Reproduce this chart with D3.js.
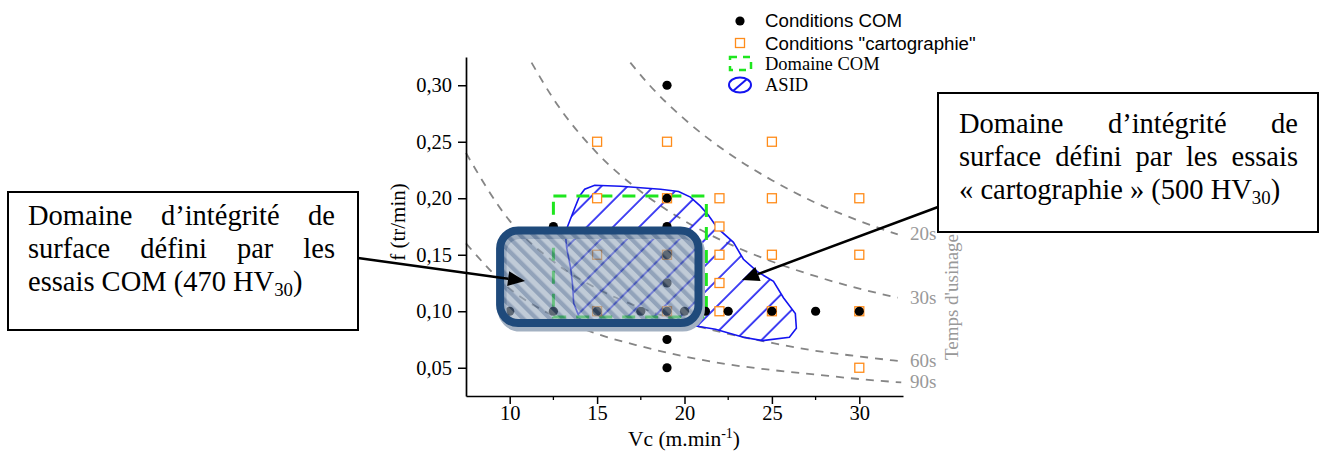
<!DOCTYPE html>
<html><head><meta charset="utf-8">
<script src="https://cdn.jsdelivr.net/npm/d3@7"></script>
<style>body{margin:0;background:#fff}svg{display:block}</style>
</head><body>
<svg id="c" width="1326" height="453"></svg>
<script>
// ---------- data ----------
const vcTicks = [10, 15, 20, 25, 30];
const vcMinorTicks = [12.5, 17.5, 22.5, 27.5];
const fTicks = [0.05, 0.10, 0.15, 0.20, 0.25, 0.30];

const comVc = [19, 19, 19, 12.5, 19, 19, 10, 12.5, 15, 17.5, 19, 20, 21.2, 22.5, 25, 27.5, 30, 19, 19];
const comF  = [0.30, 0.20, 0.175, 0.175, 0.15, 0.125, 0.10, 0.10, 0.10, 0.10, 0.10, 0.10, 0.10, 0.10, 0.10, 0.10, 0.10, 0.075, 0.05];

const cartoVc = [15, 19, 25, 15, 19, 22, 25, 30, 22, 15, 19, 22, 25, 30, 22, 15, 19, 22, 25, 30, 30];
const cartoF  = [0.25, 0.25, 0.25, 0.20, 0.20, 0.20, 0.20, 0.20, 0.175, 0.15, 0.15, 0.15, 0.15, 0.15, 0.125, 0.10, 0.10, 0.10, 0.10, 0.10, 0.05];

const domainComVc = [12.5, 21.25];
const domainComF  = [0.095, 0.202];

const asidVc = [13.31, 13.71, 14.0, 14.29, 14.86, 16.34, 18.63, 19.66, 20.34, 20.91, 21.37, 21.89, 22.8, 23.37, 24.17, 25.09, 25.66, 26.34, 26.4, 26.0, 24.46, 23.37, 21.77, 20.74, 18.06, 15.2, 14.4, 14.0, 13.66, 13.6, 13.49, 13.26, 13.2];
const asidF  = [0.175, 0.191, 0.202, 0.208, 0.2115, 0.2106, 0.208, 0.206, 0.201, 0.193, 0.185, 0.1735, 0.161, 0.146, 0.135, 0.1265, 0.112, 0.098, 0.085, 0.077, 0.074, 0.077, 0.084, 0.0867, 0.0867, 0.0867, 0.0876, 0.094, 0.107, 0.123, 0.138, 0.156, 0.166];

const comZoneVc = [9.45, 20.8];
const comZoneF  = [0.0895, 0.1715];

const isoLabels = ["20s", "30s", "60s", "90s"];
const iso20Vc = [16.9, 18, 20, 22.5, 25, 27.5, 30, 32.2];
const iso20F  = [0.32, 0.30, 0.27, 0.24, 0.216, 0.196, 0.18, 0.168];
const iso30Vc = [11.25, 12.5, 15, 17.5, 20, 22.5, 25, 27.5, 30, 32.2];
const iso30F  = [0.32, 0.288, 0.24, 0.206, 0.18, 0.16, 0.144, 0.131, 0.12, 0.112];
const iso60Vc = [7.5, 10, 12.5, 15, 17.5, 20, 22.5, 25, 27.5, 30, 32.2];
const iso60F  = [0.24, 0.18, 0.144, 0.12, 0.103, 0.09, 0.08, 0.072, 0.065, 0.06, 0.056];
const iso90Vc = [7.5, 10, 12.5, 15, 17.5, 20, 22.5, 25, 27.5, 30, 32.4];
const iso90F  = [0.16, 0.12, 0.096, 0.08, 0.069, 0.06, 0.053, 0.048, 0.044, 0.04, 0.037];

const legendLabels = ["Conditions COM", "Conditions \"cartographie\"", "Domaine COM", "ASID"];
const leftBoxLines = ["Domaine d\u2019intégrité de", "surface défini par les"];
const rightBoxLines = ["Domaine d\u2019intégrité de", "surface défini par les essais"];

// ---------- setup ----------
const SERIF = "'Liberation Serif','Times New Roman',serif";
const SANS = "'Liberation Sans',Arial,sans-serif";
const svg = d3.select("#c");
const x = d3.scaleLinear().domain([7.5, 32.5]).range([466, 903]);
const y = d3.scaleLinear().domain([0.025, 0.325]).range([396, 57]);

const defs = svg.append("defs");
const hp = defs.append("pattern").attr("id", "hatch").attr("patternUnits", "userSpaceOnUse")
  .attr("width", 18.5).attr("height", 18.5).attr("patternTransform", "rotate(45)");
hp.append("line").attr("x1", 2).attr("y1", -2).attr("x2", 2).attr("y2", 21)
  .attr("stroke", "#1414f0").attr("stroke-width", 1.6);
const sp = defs.append("pattern").attr("id", "stripes").attr("patternUnits", "userSpaceOnUse")
  .attr("width", 9.5).attr("height", 20).attr("patternTransform", "rotate(-45)");
sp.append("rect").attr("width", 9.5).attr("height", 20).attr("fill", "#9aabbf");
sp.append("rect").attr("width", 4.2).attr("height", 20).attr("fill", "#4f6a8f");

// ---------- iso-time curves ----------
const isoSeries = [[iso20Vc, iso20F], [iso30Vc, iso30F], [iso60Vc, iso60F], [iso90Vc, iso90F]];
const line = d3.line().x(d => x(d[0])).y(d => y(d[1])).curve(d3.curveMonotoneX);
isoSeries.forEach((s, i) => {
  const pts = s[0].map((v, j) => [v, s[1][j]]);
  svg.append("path").attr("d", line(pts)).attr("fill", "none")
    .attr("stroke", "#858585").attr("stroke-width", 1.8).attr("stroke-dasharray", "8,7");
  const last = pts[pts.length - 1];
  svg.append("text").attr("x", 910).attr("y", y(last[1]) + 6)
    .attr("font-family", SERIF).attr("font-size", 19).attr("fill", "#999")
    .text(isoLabels[i]);
});
svg.append("text").attr("transform", "translate(958,297) rotate(-90)")
  .attr("text-anchor", "middle").attr("font-family", SERIF).attr("font-size", 19)
  .attr("fill", "#999").text("Temps d'usinage");

// ---------- ASID ----------
const asidPts = asidVc.map((v, i) => [x(v), y(asidF[i])]);
const closed = d3.line().curve(d3.curveLinearClosed);
svg.append("path").attr("d", closed(asidPts)).attr("fill", "url(#hatch)")
  .attr("stroke", "#1414f0").attr("stroke-width", 1.6);

// ---------- Domaine COM ----------
svg.append("rect")
  .attr("x", x(domainComVc[0])).attr("y", y(domainComF[1]))
  .attr("width", x(domainComVc[1]) - x(domainComVc[0]))
  .attr("height", y(domainComF[0]) - y(domainComF[1]))
  .attr("fill", "none").attr("stroke", "#1ee61e").attr("stroke-width", 3)
  .attr("stroke-dasharray", "13,10");

// ---------- points ----------
svg.selectAll("rect.carto").data(cartoVc).enter().append("rect").attr("class", "carto")
  .attr("x", (d) => x(d) - 4.5).attr("y", (d, i) => y(cartoF[i]) - 4.5)
  .attr("width", 9).attr("height", 9).attr("fill", "#fff")
  .attr("stroke", "#ff8c1a").attr("stroke-width", 1.3);
svg.selectAll("circle.com").data(comVc).enter().append("circle").attr("class", "com")
  .attr("cx", d => x(d)).attr("cy", (d, i) => y(comF[i])).attr("r", 4.6).attr("fill", "#000");

// ---------- shaded COM zone ----------
const zx0 = x(comZoneVc[0]), zx1 = x(comZoneVc[1]), zy0 = y(comZoneF[1]), zy1 = y(comZoneF[0]);
svg.append("rect").attr("x", zx0 + 2).attr("y", zy0 + 4).attr("width", zx1 - zx0).attr("height", zy1 - zy0)
  .attr("rx", 18).attr("fill", "none").attr("stroke", "#a3b1c2").attr("stroke-width", 9);
svg.append("rect").attr("x", zx0).attr("y", zy0).attr("width", zx1 - zx0).attr("height", zy1 - zy0)
  .attr("rx", 18).attr("fill", "url(#stripes)").attr("fill-opacity", 0.62)
  .attr("stroke", "#1f4a7b").attr("stroke-width", 8);

// ---------- axes ----------
const fmt = d => d3.format(".2f")(d).replace(".", ",");
const ax = svg.append("g").attr("transform", "translate(0,396)")
  .call(d3.axisBottom(x).tickValues(vcTicks).tickSize(8).tickSizeOuter(0).tickPadding(1).tickFormat(d3.format("d")));
const ay = svg.append("g").attr("transform", "translate(466,0)")
  .call(d3.axisLeft(y).tickValues(fTicks).tickSize(8).tickSizeOuter(0).tickPadding(6).tickFormat(fmt));
[ax, ay].forEach(g => {
  g.select(".domain").attr("stroke", "#000").attr("stroke-width", 1.7);
  g.selectAll(".tick line").attr("stroke", "#000").attr("stroke-width", 1.5);
  g.selectAll(".tick text").attr("font-family", SERIF).attr("font-size", 20.5).attr("fill", "#000");
});
ax.selectAll(".minor").data(vcMinorTicks).enter().append("line").attr("class", "minor")
  .attr("x1", d => x(d)).attr("x2", d => x(d)).attr("y1", 0).attr("y2", 4)
  .attr("stroke", "#000").attr("stroke-width", 1.3);

const xl = svg.append("text").attr("x", 684).attr("y", 446).attr("text-anchor", "middle")
  .attr("font-family", SERIF).attr("font-size", 21.5).attr("fill", "#000");
xl.append("tspan").text("Vc (m.min");
xl.append("tspan").attr("dy", -8).attr("font-size", 14).text("-1");
xl.append("tspan").attr("dy", 8).text(")");
svg.append("text").attr("transform", "translate(405,222) rotate(-90)").attr("text-anchor", "middle")
  .attr("font-family", SERIF).attr("font-size", 21).attr("fill", "#000").text("f (tr/min)");

// ---------- legend ----------
const lg = svg.append("g");
lg.append("circle").attr("cx", 740).attr("cy", 21).attr("r", 4.6).attr("fill", "#000");
lg.append("rect").attr("x", 735.5).attr("y", 38.5).attr("width", 9).attr("height", 9)
  .attr("fill", "#fff").attr("stroke", "#ff8c1a").attr("stroke-width", 1.3);
lg.append("rect").attr("x", 730).attr("y", 57).attr("width", 21).attr("height", 13)
  .attr("fill", "none").attr("stroke", "#1ee61e").attr("stroke-width", 2.5).attr("stroke-dasharray", "7,6");
lg.append("ellipse").attr("cx", 740).attr("cy", 85).attr("rx", 11).attr("ry", 7.5)
  .attr("fill", "none").attr("stroke", "#1414f0").attr("stroke-width", 2);
lg.append("line").attr("x1", 733).attr("y1", 91).attr("x2", 747).attr("y2", 79)
  .attr("stroke", "#1414f0").attr("stroke-width", 2);
const legY = [27, 50, 70, 91];
legendLabels.forEach((t, i) => {
  lg.append("text").attr("x", 765).attr("y", legY[i])
    .attr("font-family", i < 2 ? SANS : SERIF).attr("font-size", i < 2 ? 18.7 : 18.5)
    .attr("fill", "#000").text(t);
});

// ---------- annotation boxes ----------
function justify(words, x0, x1, yb, size) {
  const ws = words.split(" ");
  const els = ws.map(w => svg.append("text").attr("y", yb).attr("font-family", SERIF)
    .attr("font-size", size).attr("fill", "#000").text(w));
  const widths = els.map(e => e.node().getComputedTextLength());
  const gap = (x1 - x0 - d3.sum(widths)) / (ws.length - 1);
  let cx = x0;
  els.forEach((e, i) => { e.attr("x", cx); cx += widths[i] + gap; });
}
function lastLine(pre, sub, post, x0, yb, size) {
  const t = svg.append("text").attr("x", x0).attr("y", yb).attr("font-family", SERIF)
    .attr("font-size", size).attr("fill", "#000");
  t.append("tspan").text(pre);
  t.append("tspan").attr("dy", size * 0.18).attr("font-size", size * 0.66).text(sub);
  t.append("tspan").attr("dy", -size * 0.18).text(post);
}
svg.append("rect").attr("x", 8).attr("y", 192).attr("width", 350).attr("height", 138)
  .attr("fill", "#fff").attr("stroke", "#000").attr("stroke-width", 2);
justify(leftBoxLines[0], 28, 335, 225, 28.5);
justify(leftBoxLines[1], 28, 335, 258, 28.5);
lastLine("essais COM (470 HV", "30", ")", 28, 291, 28.5);

svg.append("rect").attr("x", 938).attr("y", 93).attr("width", 380).attr("height", 139)
  .attr("fill", "#fff").attr("stroke", "#000").attr("stroke-width", 2);
justify(rightBoxLines[0], 959, 1298, 133, 28.5);
justify(rightBoxLines[1], 959, 1298, 166, 28.5);
lastLine("\u00ab cartographie \u00bb (500 HV", "30", ")", 959, 199, 28.5);

// ---------- arrows ----------
function arrow(x0, y0, x1, y1) {
  const a = Math.atan2(y1 - y0, x1 - x0), L = 17, W = 7.5;
  const bx = x1 - L * Math.cos(a), by = y1 - L * Math.sin(a);
  svg.append("line").attr("x1", x0).attr("y1", y0).attr("x2", bx).attr("y2", by)
    .attr("stroke", "#000").attr("stroke-width", 2.5);
  svg.append("path").attr("d", `M${x1},${y1}L${bx - W * Math.sin(a)},${by + W * Math.cos(a)}L${bx + W * Math.sin(a)},${by - W * Math.cos(a)}Z`)
    .attr("fill", "#000");
}
arrow(358, 258, 525, 281);
arrow(938, 207, 742, 280);
</script>
</body></html>
